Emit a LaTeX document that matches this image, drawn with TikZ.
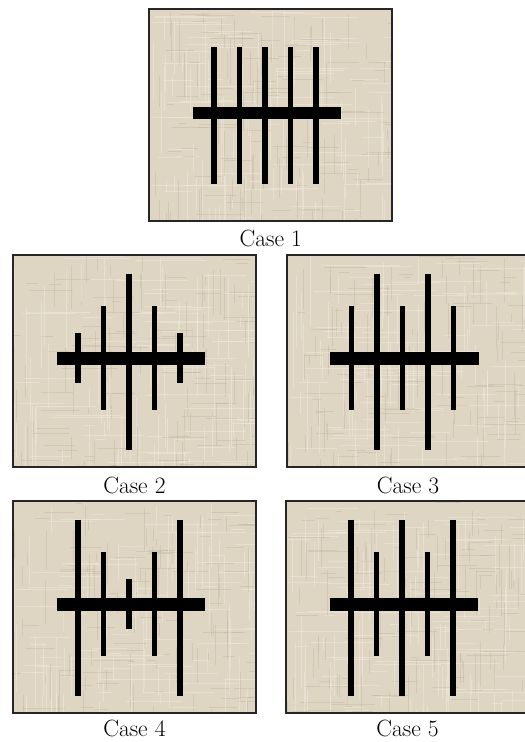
\documentclass[tikz,border=0pt]{standalone}
\usetikzlibrary{calc}
\definecolor{linen}{RGB}{222,213,194}
\definecolor{linenlight}{RGB}{238,232,219}
\definecolor{linendark}{RGB}{192,180,158}

% beige woven background of one panel, 243 x 212 px
\newcommand{\linenpanel}{%
  \fill[linen] (0,0) rectangle (243,212);
  \begin{scope}
    \clip (0,0) rectangle (243,212);
    \foreach \i in {1,...,70}{
      \pgfmathsetmacro\wx{243*rnd}\pgfmathsetmacro\wy{212*rnd}\pgfmathsetmacro\wl{10+70*rnd}
      \draw[weave light] (\wx,\wy) -- ++(\wl,0);
      \pgfmathsetmacro\wx{243*rnd}\pgfmathsetmacro\wy{212*rnd}\pgfmathsetmacro\wl{10+70*rnd}
      \draw[weave light] (\wx,\wy) -- ++(0,\wl);
      \pgfmathsetmacro\wx{243*rnd}\pgfmathsetmacro\wy{212*rnd}\pgfmathsetmacro\wl{6+40*rnd}
      \draw[weave dark] (\wx,\wy) -- ++(\wl,0);
      \pgfmathsetmacro\wx{243*rnd}\pgfmathsetmacro\wy{212*rnd}\pgfmathsetmacro\wl{6+40*rnd}
      \draw[weave dark] (\wx,\wy) -- ++(0,\wl);
    }
  \end{scope}
  \draw[frame] (0,0) rectangle (243,212);
}

\begin{document}
\begin{tikzpicture}[x=1pt, y=-1pt,
  frame/.style={draw=black!85, line width=2pt},
  tine/.style={line width=5.5pt},
  bar/.style={line width=12.5pt},
  weave light/.style={draw=linenlight, line width=1pt, opacity=.6},
  weave dark/.style={draw=linendark, line width=.8pt, opacity=.4},
  caption/.style={anchor=base, font=\fontsize{23.5}{28}\selectfont}]
  \useasboundingbox (0,0) rectangle (525,742);
  \clip (0,0) rectangle (525,742);
  \pgfmathsetseed{42}

  % Case 1
  \begin{scope}[shift={(149.3,9.3)}]
    \linenpanel
    \foreach \k in {0,...,4} \draw[tine] (64.8+25.5*\k,38) -- (64.8+25.5*\k,175);
    \draw[bar] (43.5,103.7) -- (192,103.7);
    \node[caption] (lbl1) at (121.5,237) {Case 1};
  \end{scope}

  % Case 2
  \begin{scope}[shift={(13,255)}]
    \linenpanel
    \foreach \k/\ya/\yb in {0/78/128,1/51/155,2/18.5/194.5,3/51/155,4/78/128}
      \draw[tine] (64.8+25.5*\k,\ya) -- (64.8+25.5*\k,\yb);
    \draw[bar] (43.5,103.7) -- (192,103.7);
    \node[caption] (lbl2) at (121.5,238.5) {Case 2};
  \end{scope}

  % Case 3
  \begin{scope}[shift={(286.5,255)}]
    \linenpanel
    \foreach \k/\ya/\yb in {0/51/155,1/18.5/194.5,2/51/155,3/18.5/194.5,4/51/155}
      \draw[tine] (64.8+25.5*\k,\ya) -- (64.8+25.5*\k,\yb);
    \draw[bar] (43.5,103.7) -- (192,103.7);
    \node[caption] (lbl3) at (121.5,238.5) {Case 3};
  \end{scope}

  % Case 4
  \begin{scope}[shift={(13,501)}]
    \linenpanel
    \foreach \k/\ya/\yb in {0/18.5/194.5,1/51/155,2/78/128,3/51/155,4/18.5/194.5}
      \draw[tine] (64.8+25.5*\k,\ya) -- (64.8+25.5*\k,\yb);
    \draw[bar] (43.5,103.7) -- (192,103.7);
    \node[caption] (lbl4) at (121.5,235.5) {Case 4};
  \end{scope}

  % Case 5
  \begin{scope}[shift={(286,501)}]
    \linenpanel
    \foreach \k/\ya/\yb in {0/18.5/194.5,1/51/155,2/18.5/194.5,3/51/155,4/18.5/194.5}
      \draw[tine] (64.8+25.5*\k,\ya) -- (64.8+25.5*\k,\yb);
    \draw[bar] (43.5,103.7) -- (192,103.7);
    \node[caption] (lbl5) at (121.5,235.5) {Case 5};
  \end{scope}
\end{tikzpicture}
\end{document}
